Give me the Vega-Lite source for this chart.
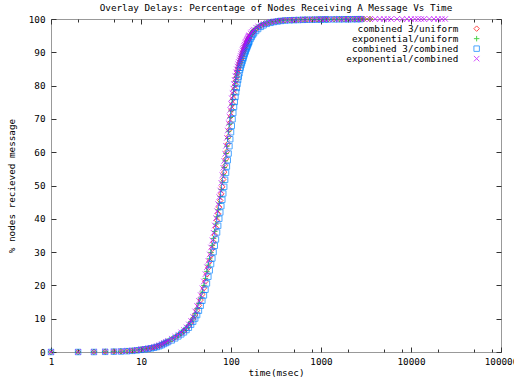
{
"$schema": "https://vega.github.io/schema/vega-lite/v6.json",
"width": 450, "height": 333,
"autosize": {"type": "none"},
"padding": {"left": 51, "top": 19, "right": 13, "bottom": 29},
"background": "white",
"title": {"text": "Overlay Delays: Percentage of Nodes Receiving A Message Vs Time", "font": "DejaVu Sans Mono", "fontSize": 9.3, "fontWeight": "normal", "color": "black", "offset": 1, "anchor": "middle"},
"config": {
  "view": {"stroke": "#999999", "strokeWidth": 1},
  "axis": {"domain": false, "grid": false, "labelFont": "DejaVu Sans Mono", "labelFontSize": 9.3, "labelColor": "black", "titleFont": "DejaVu Sans Mono", "titleFontSize": 9.3, "titleFontWeight": "normal", "titleColor": "black", "tickColor": "#333333", "tickWidth": 1, "labelFlush": false, "labelOverlap": false},
  "legend": {"orient": "none", "legendX": 401, "legendY": 5, "padding": 0, "title": null, "labelFont": "DejaVu Sans Mono", "labelFontSize": 9.3, "labelColor": "black", "labelAlign": "right", "labelOffset": -23, "symbolOffset": 20, "symbolSize": 30, "symbolStrokeWidth": 1, "rowPadding": -4.5}
},
"data": {"values": [
{"t":1,"r":0,"g":0,"b":0,"m":0},
{"t":2,"r":0,"g":0,"b":0,"m":0},
{"t":3,"r":0.05,"g":0.05,"b":0,"m":0.05},
{"t":4,"r":0.1,"g":0.1,"b":0.05,"m":0.1},
{"t":5,"r":0.15,"g":0.16,"b":0.1,"m":0.17},
{"t":6,"r":0.2,"g":0.21,"b":0.15,"m":0.22},
{"t":7,"r":0.3,"g":0.31,"b":0.25,"m":0.33},
{"t":8,"r":0.4,"g":0.42,"b":0.35,"m":0.45},
{"t":9,"r":0.55,"g":0.57,"b":0.5,"m":0.6},
{"t":10,"r":0.75,"g":0.77,"b":0.65,"m":0.8},
{"t":11,"r":0.9,"g":0.92,"b":0.8,"m":0.95},
{"t":12,"r":1.05,"g":1.07,"b":0.95,"m":1.1},
{"t":13,"r":1.2,"g":1.24,"b":1.1,"m":1.3},
{"t":14,"r":1.4,"g":1.44,"b":1.3,"m":1.5},
{"t":15,"r":1.65,"g":1.69,"b":1.5,"m":1.75},
{"t":16,"r":1.9,"g":1.96,"b":1.75,"m":2.05},
{"t":17,"r":2.3,"g":2.34,"b":2.05,"m":2.4},
{"t":18,"r":2.6,"g":2.64,"b":2.4,"m":2.7},
{"t":19,"r":2.9,"g":2.94,"b":2.7,"m":3.0},
{"t":20,"r":3.2,"g":3.26,"b":3.0,"m":3.35},
{"t":22,"r":3.8,"g":3.88,"b":3.5,"m":4.0},
{"t":24,"r":4.4,"g":4.48,"b":4.1,"m":4.6},
{"t":26,"r":5.0,"g":5.08,"b":4.7,"m":5.2},
{"t":28,"r":5.6,"g":5.72,"b":5.3,"m":5.9},
{"t":30,"r":6.3,"g":6.42,"b":5.9,"m":6.6},
{"t":32,"r":7.0,"g":7.16,"b":6.6,"m":7.4},
{"t":34,"r":7.9,"g":8.06,"b":7.3,"m":8.3},
{"t":36,"r":8.9,"g":9.06,"b":8.2,"m":9.3},
{"t":38,"r":10.0,"g":10.2,"b":9.1,"m":10.5},
{"t":40,"r":11.1,"g":11.5,"b":10.05,"m":12.2},
{"t":42,"r":12.5,"g":13.0,"b":11.1,"m":13.8},
{"t":44,"r":14.0,"g":14.6,"b":12.4,"m":15.4},
{"t":46,"r":15.6,"g":16.2,"b":13.9,"m":17.1},
{"t":48,"r":17.3,"g":18.0,"b":15.4,"m":19.1},
{"t":50,"r":19.2,"g":20.0,"b":17.0,"m":21.2},
{"t":52,"r":21.2,"g":22.1,"b":18.7,"m":23.4},
{"t":54,"r":23.3,"g":24.2,"b":20.6,"m":25.5},
{"t":56,"r":25.3,"g":26.1,"b":22.6,"m":27.4},
{"t":58,"r":27.2,"g":28.0,"b":24.5,"m":29.3},
{"t":60,"r":29.0,"g":29.9,"b":26.4,"m":31.4},
{"t":62,"r":31.0,"g":32.0,"b":28.1,"m":33.5},
{"t":64,"r":33.0,"g":34.1,"b":30.0,"m":35.8},
{"t":66,"r":35.1,"g":36.2,"b":31.9,"m":38.0},
{"t":68,"r":37.3,"g":38.4,"b":33.8,"m":40.2},
{"t":70,"r":39.5,"g":40.6,"b":35.9,"m":42.3},
{"t":72,"r":41.5,"g":42.7,"b":37.9,"m":44.4},
{"t":74,"r":43.5,"g":44.7,"b":40.0,"m":46.5},
{"t":76,"r":45.5,"g":46.7,"b":41.9,"m":48.5},
{"t":78,"r":47.5,"g":48.8,"b":43.8,"m":50.8},
{"t":80,"r":49.6,"g":51.0,"b":45.7,"m":53.1},
{"t":82,"r":51.8,"g":53.2,"b":47.6,"m":55.3},
{"t":84,"r":54.0,"g":55.4,"b":49.6,"m":57.4},
{"t":86,"r":56.0,"g":57.4,"b":51.7,"m":59.5},
{"t":88,"r":58.0,"g":59.6,"b":53.8,"m":61.9},
{"t":90,"r":60.2,"g":61.8,"b":55.7,"m":64.3},
{"t":92,"r":62.5,"g":64.1,"b":57.6,"m":66.5},
{"t":94,"r":64.7,"g":66.3,"b":59.6,"m":68.7},
{"t":96,"r":66.8,"g":68.4,"b":61.8,"m":70.7},
{"t":98,"r":68.9,"g":70.4,"b":63.9,"m":72.7},
{"t":100,"r":70.9,"g":72.4,"b":66.0,"m":74.5},
{"t":102,"r":72.8,"g":74.2,"b":67.9,"m":76.2},
{"t":104,"r":74.5,"g":75.8,"b":69.9,"m":77.7},
{"t":106,"r":76.1,"g":77.3,"b":71.8,"m":79.1},
{"t":108,"r":77.6,"g":78.8,"b":73.6,"m":80.5},
{"t":110,"r":79.0,"g":80.1,"b":75.1,"m":81.7},
{"t":112,"r":80.3,"g":81.3,"b":76.6,"m":82.9},
{"t":114,"r":81.5,"g":82.5,"b":78.0,"m":84.0},
{"t":116,"r":82.6,"g":83.5,"b":79.3,"m":84.9},
{"t":118,"r":83.7,"g":84.5,"b":80.5,"m":85.7},
{"t":120,"r":84.7,"g":85.4,"b":81.7,"m":86.4},
{"t":122,"r":85.4,"g":86.1,"b":82.7,"m":87.1},
{"t":124,"r":86.1,"g":86.7,"b":83.7,"m":87.7},
{"t":126,"r":86.8,"g":87.4,"b":84.7,"m":88.3},
{"t":128,"r":87.4,"g":88.0,"b":85.4,"m":88.9},
{"t":130,"r":88.0,"g":88.6,"b":86.1,"m":89.5},
{"t":132,"r":88.6,"g":89.2,"b":86.7,"m":90.0},
{"t":134,"r":89.2,"g":89.7,"b":87.3,"m":90.6},
{"t":136,"r":89.7,"g":90.2,"b":87.9,"m":91.0},
{"t":138,"r":90.2,"g":90.7,"b":88.4,"m":91.4},
{"t":140,"r":90.7,"g":91.2,"b":89.0,"m":91.9},
{"t":142,"r":91.1,"g":91.6,"b":89.5,"m":92.3},
{"t":144,"r":91.5,"g":92.0,"b":90.0,"m":92.8},
{"t":146,"r":92.0,"g":92.4,"b":90.4,"m":93.1},
{"t":148,"r":92.4,"g":92.8,"b":90.9,"m":93.5},
{"t":150,"r":92.8,"g":93.2,"b":91.3,"m":93.8},
{"t":152,"r":93.1,"g":93.5,"b":91.7,"m":94.1},
{"t":154,"r":93.5,"g":93.9,"b":92.1,"m":94.4},
{"t":156,"r":93.8,"g":94.2,"b":92.5,"m":94.7},
{"t":158,"r":94.1,"g":94.4,"b":92.9,"m":94.9},
{"t":160,"r":94.4,"g":94.7,"b":93.2,"m":95.1},
{"t":165,"r":95.0,"g":95.3,"b":94.0,"m":95.7},
{"t":170,"r":95.6,"g":95.8,"b":94.6,"m":96.1},
{"t":175,"r":96.0,"g":96.2,"b":95.2,"m":96.5},
{"t":180,"r":96.4,"g":96.6,"b":95.7,"m":96.8},
{"t":190,"r":97.0,"g":97.2,"b":96.4,"m":97.4},
{"t":200,"r":97.5,"g":97.6,"b":97.0,"m":97.8},
{"t":215,"r":98.0,"g":98.1,"b":97.65,"m":98.2},
{"t":230,"r":98.4,"g":98.5,"b":98.1,"m":98.55},
{"t":250,"r":98.7,"g":98.8,"b":98.55,"m":98.8},
{"t":275,"r":99.0,"g":99.05,"b":98.85,"m":99.1},
{"t":300,"r":99.2,"g":99.22,"b":99.1,"m":99.25},
{"t":330,"r":99.35,"g":99.38,"b":99.27,"m":99.42},
{"t":360,"r":99.5,"g":99.52,"b":99.42,"m":99.55},
{"t":400,"r":99.6,"g":99.61,"b":99.55,"m":99.62},
{"t":450,"r":99.65,"g":99.66,"b":99.62,"m":99.67},
{"t":500,"r":99.7,"g":99.71,"b":99.66,"m":99.72},
{"t":560,"r":99.75,"g":99.76,"b":99.7,"m":99.77},
{"t":630,"r":99.8,"g":99.8,"b":99.75,"m":99.81},
{"t":700,"r":99.82,"g":99.82,"b":99.78,"m":99.83},
{"t":800,"r":99.85,"g":99.85,"b":99.8,"m":99.86},
{"t":900,"r":99.87,"g":99.87,"b":99.82,"m":99.88},
{"t":1000,"r":99.9,"g":99.9,"b":99.84,"m":99.91},
{"t":1100,"r":99.91,"g":99.91,"b":99.85,"m":99.92},
{"t":1200,"r":99.92,"g":99.92,"b":99.86,"m":99.93},
{"t":1400,"r":99.94,"g":99.94,"b":99.88,"m":99.95},
{"t":1600,"r":99.95,"g":99.95,"b":99.9,"m":99.96},
{"t":1800,"r":99.96,"g":99.96,"b":99.91,"m":99.97},
{"t":2000,"r":99.97,"g":99.97,"b":99.92,"m":99.98},
{"t":2250,"r":99.98,"g":99.98,"b":99.93,"m":99.99},
{"t":2500,"r":99.98,"g":99.98,"b":99.94,"m":100},
{"t":2750,"r":99.99,"g":99.99,"b":99.95,"m":100},
{"t":3000,"r":100,"g":100,"b":null,"m":100},
{"t":3500,"r":100,"g":100,"b":null,"m":100},
{"t":4000,"r":null,"g":null,"b":null,"m":100},
{"t":4500,"r":null,"g":null,"b":null,"m":100},
{"t":5000,"r":null,"g":null,"b":null,"m":100},
{"t":5500,"r":null,"g":null,"b":null,"m":100},
{"t":6000,"r":null,"g":null,"b":null,"m":100},
{"t":7000,"r":null,"g":null,"b":null,"m":100},
{"t":8000,"r":null,"g":null,"b":null,"m":100},
{"t":9000,"r":null,"g":null,"b":null,"m":100},
{"t":10000,"r":null,"g":null,"b":null,"m":100},
{"t":11000,"r":null,"g":null,"b":null,"m":100},
{"t":12000,"r":null,"g":null,"b":null,"m":100},
{"t":13000,"r":null,"g":null,"b":null,"m":100},
{"t":14000,"r":null,"g":null,"b":null,"m":100},
{"t":16000,"r":null,"g":null,"b":null,"m":100},
{"t":18000,"r":null,"g":null,"b":null,"m":100},
{"t":20000,"r":null,"g":null,"b":null,"m":100},
{"t":22000,"r":null,"g":null,"b":null,"m":100},
{"t":24000,"r":null,"g":null,"b":null,"m":100}
]},
"layer": [
  {"data": {"values": [{"t": 1, "r": 0}]},
   "mark": {"type": "point", "opacity": 0},
   "encoding": {
     "x": {"field": "t", "type": "quantitative", "scale": {"type": "log", "domain": [1, 100000], "nice": false}, "axis": {"orient": "bottom", "values": [1, 10, 100, 1000, 10000, 100000], "format": "d", "tickSize": -5, "labelPadding": 10, "title": "time(msec)", "titlePadding": 2}},
     "y": {"field": "r", "type": "quantitative", "scale": {"domain": [0, 100], "nice": false}, "axis": {"orient": "left", "values": [0, 10, 20, 30, 40, 50, 60, 70, 80, 90, 100], "tickSize": -5, "labelPadding": 11, "title": "% nodes recieved message", "titlePadding": 12}}
   }},
  {"data": {"values": [{"t": 1, "r": 0}]},
   "mark": {"type": "point", "opacity": 0},
   "encoding": {
     "x": {"field": "t", "type": "quantitative", "scale": {"type": "log", "domain": [1, 100000], "nice": false}, "axis": {"orient": "top", "values": [1, 10, 100, 1000, 10000, 100000], "tickSize": -5, "labels": false, "title": null}},
     "y": {"field": "r", "type": "quantitative", "scale": {"domain": [0, 100], "nice": false}, "axis": {"orient": "right", "values": [0, 10, 20, 30, 40, 50, 60, 70, 80, 90, 100], "tickSize": -5, "labels": false, "title": null}}
   }},
  {"data": {"values": [{"t": 1, "r": 0}]},
   "mark": {"type": "point", "opacity": 0},
   "encoding": {
     "x": {"field": "t", "type": "quantitative", "scale": {"type": "log", "domain": [1, 100000], "nice": false}, "axis": {"orient": "bottom", "values": [2, 5, 8, 20, 50, 80, 200, 500, 800, 2000, 5000, 8000, 20000, 50000, 80000], "tickSize": -3, "labels": false, "title": null}},
     "y": {"field": "r", "type": "quantitative", "scale": {"domain": [0, 100], "nice": false}, "axis": null}
   }},
  {"data": {"values": [{"t": 1, "r": 0}]},
   "mark": {"type": "point", "opacity": 0},
   "encoding": {
     "x": {"field": "t", "type": "quantitative", "scale": {"type": "log", "domain": [1, 100000], "nice": false}, "axis": {"orient": "top", "values": [2, 5, 8, 20, 50, 80, 200, 500, 800, 2000, 5000, 8000, 20000, 50000, 80000], "tickSize": -3, "labels": false, "title": null}},
     "y": {"field": "r", "type": "quantitative", "scale": {"domain": [0, 100], "nice": false}, "axis": null}
   }},
  {"mark": {"type": "point", "filled": false, "strokeWidth": 1, "size": 30},
   "encoding": {
     "x": {"field": "t", "type": "quantitative", "scale": {"type": "log", "domain": [1, 100000], "nice": false}, "axis": null},
     "y": {"field": "r", "type": "quantitative", "scale": {"domain": [0, 100], "nice": false}, "axis": null},
     "color": {"datum": "combined 3/uniform", "type": "nominal", "scale": {"domain": ["combined 3/uniform", "exponential/uniform", "combined 3/combined", "exponential/combined"], "range": ["#ff0000", "#00c000", "#0080ff", "#c000ff"]}, "legend": {"title": null}},
     "shape": {"datum": "combined 3/uniform", "type": "nominal", "scale": {"domain": ["combined 3/uniform", "exponential/uniform", "combined 3/combined", "exponential/combined"], "range": ["diamond", "M-1,0L1,0M0,-1L0,1", "square", "M-1,-1L1,1M-1,1L1,-1"]}, "legend": {"title": null}}
   }},
  {"mark": {"type": "point", "filled": false, "strokeWidth": 1, "size": 30},
   "encoding": {
     "x": {"field": "t", "type": "quantitative", "scale": {"type": "log", "domain": [1, 100000], "nice": false}, "axis": null},
     "y": {"field": "g", "type": "quantitative", "scale": {"domain": [0, 100], "nice": false}, "axis": null},
     "color": {"datum": "exponential/uniform", "type": "nominal"},
     "shape": {"datum": "exponential/uniform", "type": "nominal"}
   }},
  {"mark": {"type": "point", "filled": false, "strokeWidth": 1, "size": 30},
   "encoding": {
     "x": {"field": "t", "type": "quantitative", "scale": {"type": "log", "domain": [1, 100000], "nice": false}, "axis": null},
     "y": {"field": "b", "type": "quantitative", "scale": {"domain": [0, 100], "nice": false}, "axis": null},
     "color": {"datum": "combined 3/combined", "type": "nominal"},
     "shape": {"datum": "combined 3/combined", "type": "nominal"}
   }},
  {"mark": {"type": "point", "filled": false, "strokeWidth": 1, "size": 30},
   "encoding": {
     "x": {"field": "t", "type": "quantitative", "scale": {"type": "log", "domain": [1, 100000], "nice": false}, "axis": null},
     "y": {"field": "m", "type": "quantitative", "scale": {"domain": [0, 100], "nice": false}, "axis": null},
     "color": {"datum": "exponential/combined", "type": "nominal"},
     "shape": {"datum": "exponential/combined", "type": "nominal"}
   }}
],
"resolve": {"axis": {"x": "independent", "y": "independent"}}
}
